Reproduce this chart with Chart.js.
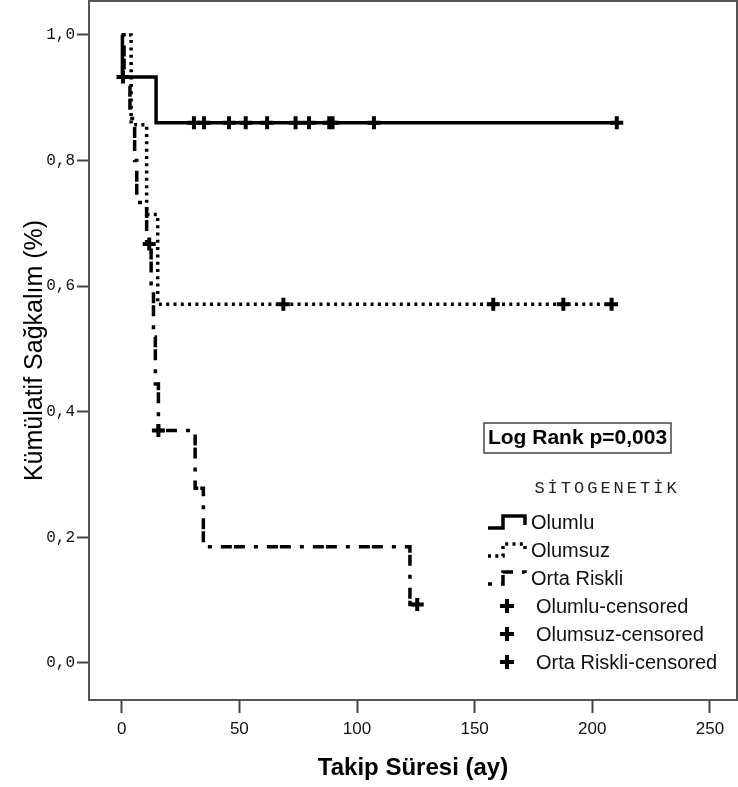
<!DOCTYPE html>
<html>
<head>
<meta charset="utf-8">
<script src="https://cdn.jsdelivr.net/npm/chart.js@4.4.1/dist/chart.umd.min.js"></script>
<style>
  html, body { margin: 0; padding: 0; background: #fff; }
</style>
</head>
<body>
<canvas id="kmChart" width="738" height="787"></canvas>
<script>
// Data
//==============================

// Olumlu (solid)
var olumluTime = [0, 0.3, 14.6, 210.4];
var olumluSurv = [1.0, 0.933, 0.860, 0.860];
var olumluCensored = [0.55, 30.7, 35.0, 45.6, 52.7, 61.8, 73.9, 79.6, 88.2, 89.6, 107.2, 210.4];

// Olumsuz (dotted)
var olumsuzTime = [0, 4.0, 10.6, 15.3, 208.2];
var olumsuzSurv = [1.0, 0.857, 0.714, 0.571, 0.571];
var olumsuzCensored = [68.7, 157.9, 187.7, 208.2];

// Orta Riskli (dash-dot)
var ortaTime = [0, 1.0, 3.5, 5.5, 6.4, 10.6, 12.5, 13.5, 14.3, 15.6, 31.2, 34.7, 122.5, 125.6];
var ortaSurv = [1.0, 0.933, 0.867, 0.800, 0.733, 0.667, 0.593, 0.519, 0.444, 0.370, 0.278, 0.185, 0.093, 0.093];
var ortaCensored = [11.7, 15.6, 125.6];

var xTickValues = [0, 50, 100, 150, 200, 250];
var yTickValues = [0, 0.2, 0.4, 0.6, 0.8, 1.0];

var groupLabels = ["Olumlu", "Olumsuz", "Orta Riskli"];
var legendTitle = "SİTOGENETİK";
var logRankText = "Log Rank p=0,003";

// Helpers
//==============================

function toPoints(times, surv) {
  var pts = [];
  for (var i = 0; i < times.length; i++) {
    pts.push({ x: times[i], y: surv[i] });
  }
  return pts;
}

// survival value of a step curve at time t
function survAt(times, surv, t) {
  var s = surv[0];
  for (var i = 0; i < times.length; i++) {
    if (times[i] <= t) s = surv[i];
  }
  return s;
}

function censoredPoints(times, surv, cens) {
  return cens.map(function (t) {
    return { x: t, y: survAt(times, surv, t) };
  });
}

var solidDash = [];
var dotDash = [3, 4.3];
var dashDotDash = [4, 9, 11, 2, 11, 9];

function lineSet(label, times, surv, dash) {
  return {
    label: label,
    data: toPoints(times, surv),
    showLine: true,
    stepped: "before",
    borderColor: "#000",
    borderWidth: 3.5,
    borderDash: dash,
    borderCapStyle: "butt",
    pointRadius: 0,
    fill: false
  };
}

function censSet(label, times, surv, cens) {
  return {
    label: label + "-censored",
    data: censoredPoints(times, surv, cens),
    showLine: false,
    pointStyle: "cross",
    pointRadius: 6.5,
    pointBorderWidth: 4,
    pointBorderColor: "#000",
    pointBackgroundColor: "#000"
  };
}

// keep the plot area fixed, no automatic edge padding for labels
function fixScale(size) {
  return function (scale) {
    if (scale.isHorizontal()) scale.height = size;
    else scale.width = size;
    scale.paddingTop = 0;
    scale.paddingBottom = 0;
    scale.paddingLeft = 0;
    scale.paddingRight = 0;
  };
}

// Frame, Log Rank box and legend
//==============================

var extrasPlugin = {
  id: "kmExtras",
  afterDraw: function (chart) {
    var ctx = chart.ctx;
    var a = chart.chartArea;
    ctx.save();

    // frame
    ctx.strokeStyle = "#555";
    ctx.lineWidth = 2;
    ctx.setLineDash([]);
    ctx.strokeRect(a.left, a.top, a.right - a.left, a.bottom - a.top);

    // log rank box
    ctx.fillStyle = "#fff";
    ctx.fillRect(484, 423, 187, 30);
    ctx.strokeStyle = "#444";
    ctx.lineWidth = 1.5;
    ctx.strokeRect(484, 423, 187, 30);
    ctx.fillStyle = "#000";
    ctx.font = "bold 21px 'Liberation Sans', Arial, sans-serif";
    ctx.textAlign = "center";
    ctx.textBaseline = "middle";
    ctx.fillText(logRankText, 577.5, 438.5);

    // legend title
    ctx.font = "17px 'Liberation Mono', 'Courier New', monospace";
    ctx.fillStyle = "#222";
    ctx.letterSpacing = "3px";
    ctx.fillText(legendTitle, 607, 488);
    ctx.letterSpacing = "0px";

    // legend line samples
    var dashes = [solidDash, dotDash, dashDotDash];
    var rowY = [522, 550, 578, 606, 634, 662];
    ctx.strokeStyle = "#000";
    ctx.lineWidth = 3.5;
    for (var i = 0; i < 3; i++) {
      var c = rowY[i];
      ctx.setLineDash(dashes[i]);
      ctx.beginPath();
      ctx.moveTo(488, c + 6);
      ctx.lineTo(503, c + 6);
      ctx.lineTo(503, c - 6);
      ctx.lineTo(525, c - 6);
      ctx.lineTo(525, c + 3);
      ctx.stroke();
    }
    ctx.setLineDash([]);

    // legend censored crosses
    ctx.lineWidth = 4;
    for (var j = 3; j < 6; j++) {
      var cy = rowY[j];
      ctx.beginPath();
      ctx.moveTo(500, cy);
      ctx.lineTo(514, cy);
      ctx.moveTo(507, cy - 7);
      ctx.lineTo(507, cy + 7);
      ctx.stroke();
    }

    // legend texts
    ctx.font = "20px 'Liberation Sans', Arial, sans-serif";
    ctx.textAlign = "left";
    ctx.fillStyle = "#111";
    for (var k = 0; k < 3; k++) {
      ctx.fillText(groupLabels[k], 531, rowY[k] + 1);
      ctx.fillText(groupLabels[k] + "-censored", 536, rowY[k + 3] + 1);
    }
    ctx.restore();
  }
};

// Chart
//==============================

var ctx = document.getElementById("kmChart");
var kmChart = new Chart(ctx, {
  type: "scatter",
  data: {
    datasets: [
      lineSet(groupLabels[0], olumluTime, olumluSurv, solidDash),
      lineSet(groupLabels[1], olumsuzTime, olumsuzSurv, dotDash),
      lineSet(groupLabels[2], ortaTime, ortaSurv, dashDotDash),
      censSet(groupLabels[0], olumluTime, olumluSurv, olumluCensored),
      censSet(groupLabels[1], olumsuzTime, olumsuzSurv, olumsuzCensored),
      censSet(groupLabels[2], ortaTime, ortaSurv, ortaCensored)
    ]
  },
  options: {
    responsive: false,
    animation: false,
    layout: { autoPadding: false, padding: { top: 1, right: 1, left: 0, bottom: 0 } },
    plugins: {
      legend: { display: false },
      tooltip: { enabled: false }
    },
    scales: {
      x: {
        type: "linear",
        min: -13.9,
        max: 261.5,
        afterBuildTicks: function (scale) {
          scale.ticks = xTickValues.map(function (v) { return { value: v }; });
        },
        afterFit: fixScale(87),
        grid: { drawOnChartArea: false, drawTicks: true, tickLength: 13, tickColor: "#444", tickWidth: 2 },
        border: { display: false },
        ticks: {
          padding: 6,
          color: "#111",
          maxRotation: 0,
          font: { family: "'Liberation Sans', Arial, sans-serif", size: 17 }
        },
        title: {
          display: true,
          text: "Takip Süresi (ay)",
          color: "#000",
          padding: { top: 0, bottom: 4 },
          font: { family: "'Liberation Sans', Arial, sans-serif", size: 24, weight: "bold" }
        }
      },
      y: {
        type: "linear",
        min: -0.059,
        max: 1.054,
        afterBuildTicks: function (scale) {
          scale.ticks = yTickValues.map(function (v) { return { value: v }; });
        },
        afterFit: fixScale(89),
        grid: { drawOnChartArea: false, drawTicks: true, tickLength: 12, tickColor: "#444", tickWidth: 2 },
        border: { display: false },
        ticks: {
          padding: 2,
          color: "#111",
          font: { family: "'Liberation Mono', 'Courier New', monospace", size: 16 },
          callback: function (value) {
            return value.toFixed(1).replace(".", ",");
          }
        },
        title: {
          display: true,
          text: "Kümülatif Sağkalım (%)",
          color: "#000",
          padding: { top: 20, bottom: 0 },
          font: { family: "'Liberation Sans', Arial, sans-serif", size: 25 }
        }
      }
    }
  },
  plugins: [extrasPlugin]
});
</script>
</body>
</html>
